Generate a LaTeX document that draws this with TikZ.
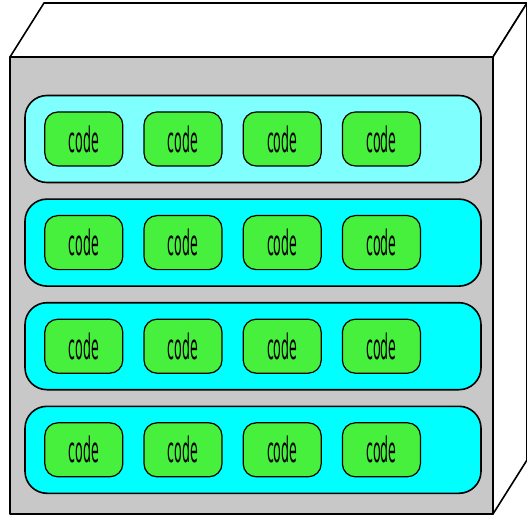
\documentclass[tikz,border=0pt]{standalone}
\usepackage{fontspec}
\newfontfamily\codefont{DejaVu Sans}[FakeStretch=0.36]
\usetikzlibrary{positioning}

\definecolor{facegray}{RGB}{200,200,200}
\definecolor{lightcyan}{RGB}{128,255,255}
\definecolor{rowcyan}{RGB}{0,255,255}
\definecolor{codegreen}{RGB}{70,240,60}

\begin{document}
\begin{tikzpicture}[
    x=1pt, y=1pt,
    face/.style={draw, line width=1.6pt, line join=round},
    row/.style={rectangle, draw, fill=rowcyan, line width=1.6pt, minimum width=456pt, minimum height=87pt, rounded corners=22pt},
    codebox/.style={rectangle, draw, fill=codegreen, line width=1.2pt, minimum width=78pt, minimum height=54pt, rounded corners=13pt, font=\codefont\fontsize{35}{35}\selectfont}
]
\useasboundingbox (0,0) rectangle (527,520);

% Box faces
\draw[face, fill=white] (10,463) -- (44,517) -- (527,517) -- (493,463) -- cycle;
\draw[face, fill=white] (493,463) -- (527,517) -- (527,60) -- (493,6) -- cycle;
\draw[face, fill=facegray] (10,6) rectangle (493,463);

% Rows
\node[row, fill=lightcyan] (row1) at (253,381) {};
\node[row, below=15pt of row1] (row2) {};
\node[row, below=15pt of row2] (row3) {};
\node[row, below=15pt of row3] (row4) {};

% Code boxes
\node[codebox, right=20pt of row1.west] (code11) {code};
\node[codebox, right=20pt of code11] (code12) {code};
\node[codebox, right=20pt of code12] (code13) {code};
\node[codebox, right=20pt of code13] (code14) {code};

\node[codebox, right=20pt of row2.west] (code21) {code};
\node[codebox, right=20pt of code21] (code22) {code};
\node[codebox, right=20pt of code22] (code23) {code};
\node[codebox, right=20pt of code23] (code24) {code};

\node[codebox, right=20pt of row3.west] (code31) {code};
\node[codebox, right=20pt of code31] (code32) {code};
\node[codebox, right=20pt of code32] (code33) {code};
\node[codebox, right=20pt of code33] (code34) {code};

\node[codebox, right=20pt of row4.west] (code41) {code};
\node[codebox, right=20pt of code41] (code42) {code};
\node[codebox, right=20pt of code42] (code43) {code};
\node[codebox, right=20pt of code43] (code44) {code};

\end{tikzpicture}
\end{document}
